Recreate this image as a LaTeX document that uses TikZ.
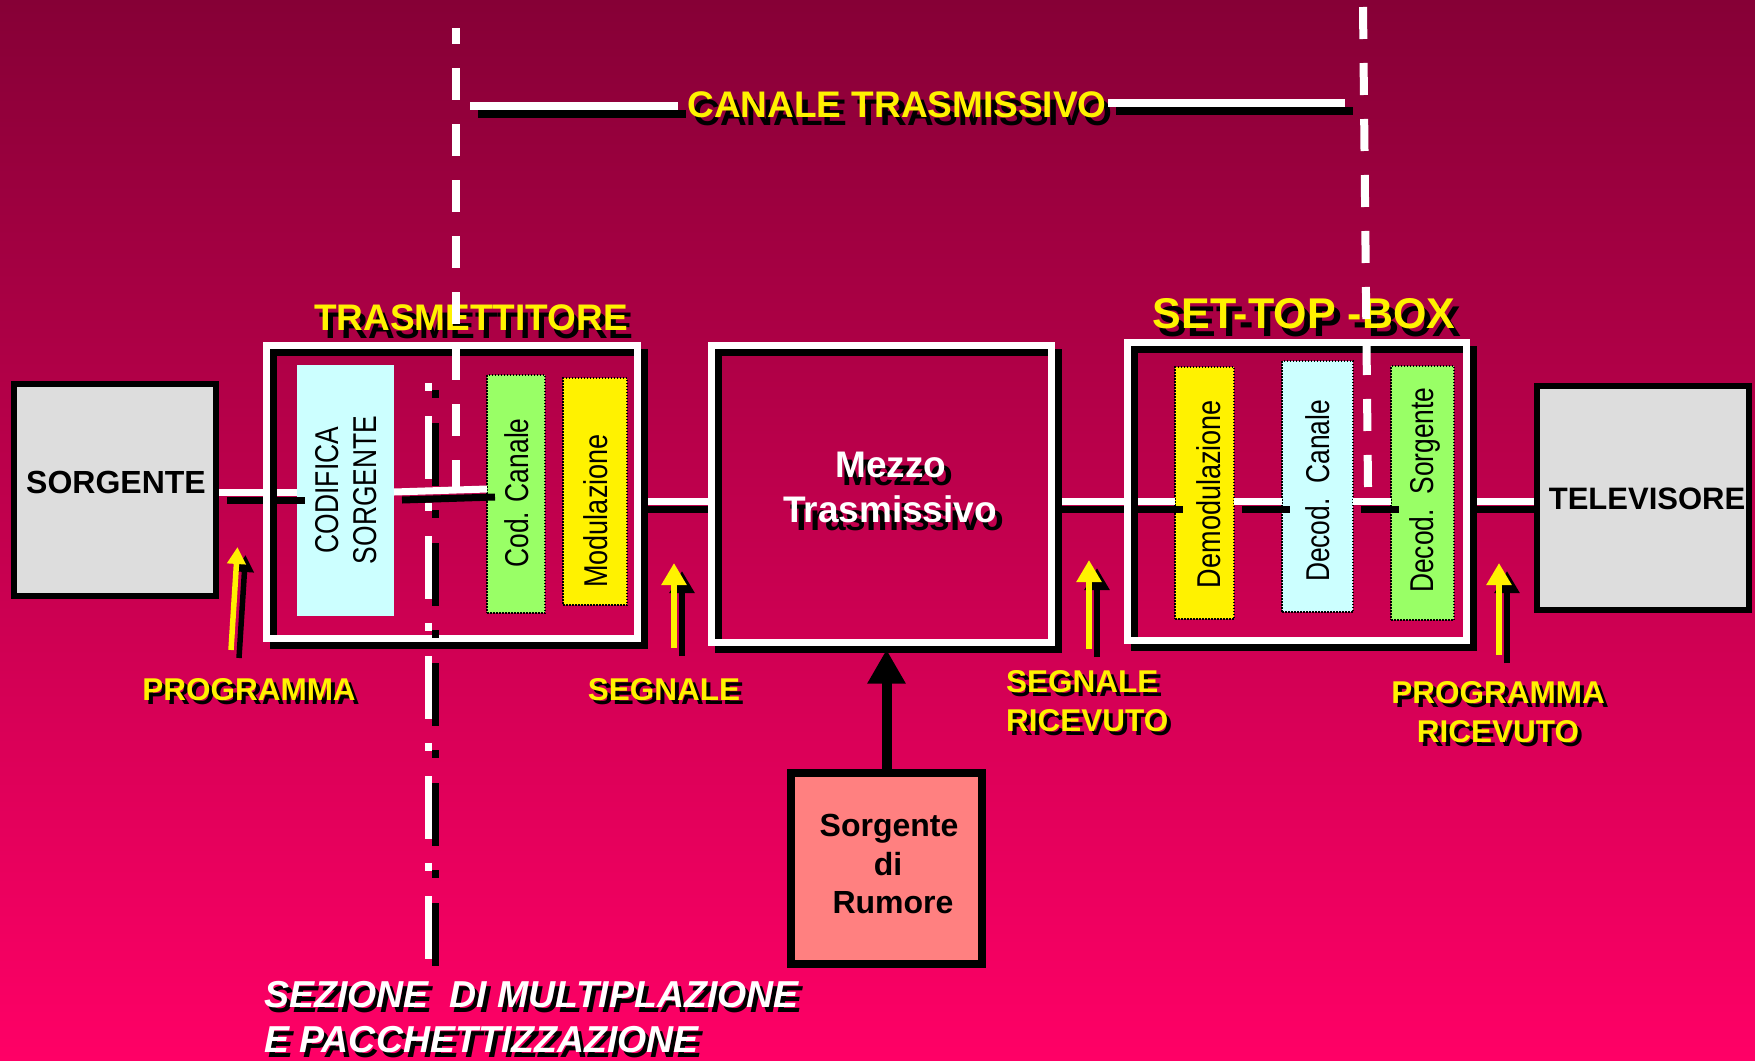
\documentclass[tikz,border=0pt]{standalone}
\usepackage{fontspec}
\usepackage{graphicx}
\setmainfont{Liberation Sans}
\usetikzlibrary{arrows.meta}
\pgfdeclarelayer{back}
\pgfdeclarelayer{blocks}
\pgfdeclarelayer{wires}
\pgfsetlayers{back,blocks,wires,main}
\definecolor{bgtop}{RGB}{134,0,54}
\definecolor{bgbot}{RGB}{255,0,102}
\definecolor{ltcyan}{RGB}{204,255,255}
\definecolor{ltgreen}{RGB}{153,255,102}
\definecolor{ltgray}{RGB}{221,221,221}
\definecolor{salmon}{RGB}{255,128,128}
\newcommand\fsz[1]{\fontsize{#1}{#1}\selectfont}
% name, x, y, dx, dy, colour, options, text
\newcommand\shtext[8]{%
  \node[lbl,#7,text=black] (#1s) at ({#2+#4},{#3+#5}) {#8};
  \node[lbl,#7,text=#6] (#1) at (#2,#3) {#8};}
\begin{document}
\begin{tikzpicture}[x=1pt,y=-1pt,
  lbl/.style={inner sep=0pt, anchor=base},
  frame/.style={draw=white, line width=7pt, inner sep=0pt, outer sep=0pt},
  frameshadow/.style={draw=black, line width=7pt, inner sep=0pt, outer sep=0pt},
  blk/.style={draw=black, line width=1.5pt, dash pattern=on 1.5pt off 1.5pt, inner sep=0pt, outer sep=0pt},
  greybox/.style={draw=black, fill=ltgray, line width=6pt, inner sep=0pt},
  wire/.style={white, line width=7pt},
  wsh/.style={black, line width=7pt, transform canvas={shift={(8pt,-8pt)}}},
  yar/.style={yellow, line width=6pt, -{Triangle[width=24pt,length=22pt]}},
  yarsh/.style={black, line width=6pt, -{Triangle[width=24pt,length=22pt]}, transform canvas={shift={(8pt,-8pt)}}},
  rot/.style={rotate=90, inner sep=0pt, font=\fontsize{33}{38}\selectfont, align=center},
  dashw/.style={white, line width=8pt, dash pattern=on 32pt off 24pt}
]
\begin{pgfonlayer}{back}
\shade[top color=bgtop, bottom color=bgbot] (0,0) rectangle (1755,1060);
\end{pgfonlayer}
\useasboundingbox (0,0) rectangle (1755,1060);

% ---------- inner blocks ----------
\begin{pgfonlayer}{blocks}
\node[fill=ltcyan, inner sep=0pt, outer sep=0pt, minimum width=97pt, minimum height=251pt] (cods) at (345.5,490.5) {};
\node[blk, fill=ltgreen, minimum width=58pt, minimum height=238pt] (codc) at (516,494) {};
\node[blk, fill=yellow, minimum width=64pt, minimum height=227pt] (modu) at (595,491.5) {};
\node[blk, fill=yellow, minimum width=59pt, minimum height=252pt] (demo) at (1204.5,493) {};
\node[blk, fill=ltcyan, minimum width=71pt, minimum height=251pt] (decc) at (1317.5,486.5) {};
\node[blk, fill=ltgreen, minimum width=63pt, minimum height=254pt] (decs) at (1422.5,493) {};
\end{pgfonlayer}

% ---------- frames ----------
\node[frameshadow, minimum width=371pt, minimum height=293pt] (txs) at (459,499) {};
\node[frame, minimum width=371pt, minimum height=293pt] (tx) at (452,492) {};
\node[frameshadow, minimum width=340pt, minimum height=297pt] (mezs) at (888.5,501) {};
\node[frame, minimum width=340pt, minimum height=297pt] (mez) at (881.5,494) {};
\node[frameshadow, minimum width=339pt, minimum height=298pt] (stbs) at (1304,498.5) {};
\node[frame, minimum width=339pt, minimum height=298pt] (stb) at (1297,491.5) {};

% ---------- end boxes ----------
\node[greybox, minimum width=202pt, minimum height=212pt] (sorg) at (115,490) {};
\node[greybox, minimum width=212pt, minimum height=224pt] (tv) at (1643,498) {};
\node[draw=black, fill=salmon, line width=8pt, inner sep=0pt, minimum width=191pt, minimum height=191pt] (rum) at (886.5,868.5) {};

% ---------- connectors ----------
\coordinate (ya) at (0,492);
\coordinate (yb) at (0,489);
\coordinate (yc) at (0,501);
\begin{pgfonlayer}{wires}
\draw[wsh] (sorg.east |- ya) -- (cods.west |- ya);
\draw[wire] (sorg.east |- ya) -- (cods.west |- ya);
\draw[wsh] (cods.east |- ya) -- (codc.west |- yb);
\draw[wire] (cods.east |- ya) -- (codc.west |- yb);
\draw[wsh] (tx.east |- yc) -- (mez.west |- yc);
\draw[wire] (tx.east |- yc) -- (mez.west |- yc);
\draw[wsh] (mez.east |- yc) -- (demo.west |- yc);
\draw[wire] (mez.east |- yc) -- (demo.west |- yc);
\draw[wsh] (demo.east |- yc) -- (decc.west |- yc);
\draw[wire] (demo.east |- yc) -- (decc.west |- yc);
\draw[wsh] (decc.east |- yc) -- (decs.west |- yc);
\draw[wire] (decc.east |- yc) -- (decs.west |- yc);
\draw[wsh] (stb.east |- yc) -- (tv.west |- yc);
\draw[wire] (stb.east |- yc) -- (tv.west |- yc);
\end{pgfonlayer}

% ---------- noise arrow ----------
\draw[black, line width=10pt, -{Triangle[width=36pt,length=34pt]}] (rum.north) -- (rum.north |- mezs.south);

% ---------- yellow arrows ----------
\coordinate (a1b) at (231,650); \coordinate (a1t) at (237.5,547);
\coordinate (a2b) at (674,648); \coordinate (a2t) at (674,563);
\coordinate (a3b) at (1089,649); \coordinate (a3t) at (1089,560);
\coordinate (a4b) at (1499,655); \coordinate (a4t) at (1499,563);
\draw[yarsh, line width=5.5pt, -{Triangle[width=18pt,length=17pt]}] (a1b) -- (a1t);
\draw[yar, line width=5.5pt, -{Triangle[width=18pt,length=17pt]}] (a1b) -- (a1t);
\draw[yarsh] (a2b) -- (a2t);
\draw[yar] (a2b) -- (a2t);
\draw[yarsh] (a3b) -- (a3t);
\draw[yar] (a3b) -- (a3t);
\draw[yarsh] (a4b) -- (a4t);
\draw[yar] (a4b) -- (a4t);

% ---------- rotated block texts ----------
\node[rot] (codst) at (346,490) {\scalebox{0.8}[1]{CODIFICA}\\\scalebox{0.8}[1]{SORGENTE}};
\node[rot] (codct) at (517,493) {\scalebox{0.8}[1]{Cod. Canale}};
\node[rot] (modut) at (596,511) {\scalebox{0.82}[1]{Modulazione}};
\node[rot] (demot) at (1209,494) {\scalebox{0.82}[1]{Demodulazione}};
\node[rot] (decct) at (1318,491) {\scalebox{0.8}[1]{Decod.\ \ Canale}};
\node[rot] (decst) at (1425,490) {\scalebox{0.8}[1]{Decod.\ \ Sorgente}};

% ---------- texts ----------
\node[lbl, font=\fsz{32}\bfseries] (sorgt) at (116,493) {SORGENTE};
\node[lbl, font=\fsz{31}\bfseries] (tvt) at (1647,509) {TELEVISORE};
\node[lbl, font=\fsz{32}\bfseries] (rt1) at (889,836) {Sorgente};
\node[lbl, font=\fsz{32}\bfseries] (rt2) at (888,875) {di};
\node[lbl, font=\fsz{32}\bfseries] (rt3) at (893,913) {Rumore};
\shtext{trt}{471}{330}{5}{8}{yellow}{font=\fsz{37}\bfseries}{TRASMETTITORE}
\shtext{stbt}{1304}{328}{6}{8}{yellow}{font=\fsz{43}\bfseries}{SET-TOP -BOX}
\shtext{cant}{897}{117}{6}{8}{yellow}{font=\fsz{37}\bfseries}{CANALE TRASMISSIVO}
\shtext{mz1}{891}{477}{7}{8}{white}{font=\fsz{37}\bfseries}{Mezzo}
\shtext{mz2}{890}{522}{7}{8}{white}{font=\fsz{37}\bfseries}{Trasmissivo}
\shtext{pra}{249}{700}{4}{4}{yellow}{font=\fsz{31.5}\bfseries}{PROGRAMMA}
\shtext{sga}{664}{700}{4}{4}{yellow}{font=\fsz{31.5}\bfseries}{SEGNALE}
\shtext{srb}{1006}{692}{4}{4}{yellow}{font=\fsz{31.5}\bfseries, anchor=base west}{SEGNALE}
\shtext{src}{1006}{731}{4}{4}{yellow}{font=\fsz{31.5}\bfseries, anchor=base west}{RICEVUTO}
\shtext{prd}{1498}{703}{4}{4}{yellow}{font=\fsz{31.5}\bfseries}{PROGRAMMA}
\shtext{pre}{1498}{742}{4}{4}{yellow}{font=\fsz{31.5}\bfseries}{RICEVUTO}
\shtext{sza}{264}{1007}{4}{5}{white}{font=\fsz{37.5}\bfseries\itshape, anchor=base west}{SEZIONE\ \ DI MULTIPLAZIONE}
\shtext{szb}{264}{1052}{4}{5}{white}{font=\fsz{37.5}\bfseries\itshape, anchor=base west}{E PACCHETTIZZAZIONE}

% ---------- canale trasmissivo bars ----------
\coordinate (cl1) at (470,106); \coordinate (cl2) at (678,106);
\coordinate (cr1) at (1108,103); \coordinate (cr2) at (1345,103);
\draw[wsh, line width=8pt] (cl1) -- (cl2);
\draw[wire, line width=8pt] (cl1) -- (cl2);
\draw[wsh, line width=8pt] (cr1) -- (cr2);
\draw[wire, line width=8pt] (cr1) -- (cr2);

% ---------- dash-dot section line ----------
\coordinate (ddt) at (428,383); \coordinate (ddb) at (428,959);
\draw[black, line width=7pt, dash pattern=on 8pt off 25pt on 63pt off 24pt, transform canvas={shift={(7pt,-7pt)}}] (ddt) -- (ddb);
\draw[white, line width=7pt, dash pattern=on 8pt off 25pt on 63pt off 24pt] (ddt) -- (ddb);

% ---------- dashed channel borders ----------
\coordinate (dlt) at (456,28); \coordinate (dlb) at (456,490);
\coordinate (drt) at (1363,7); \coordinate (drb) at (1368,487);
\draw[dashw, dash phase=16pt] (dlt) -- (dlb);
\draw[dashw] (drt) -- (drb);
\end{tikzpicture}
\end{document}
